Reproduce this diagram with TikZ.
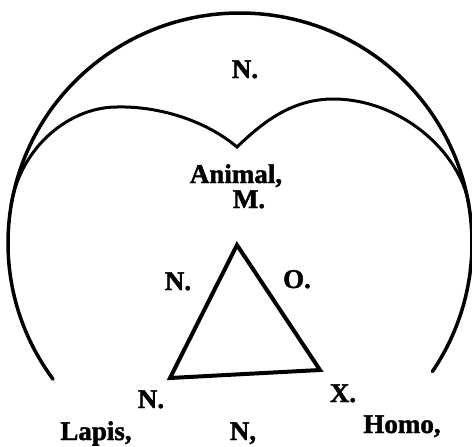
\documentclass[tikz,border=0pt]{standalone}
\usepackage{fontspec}
\setmainfont{Liberation Serif}[BoldFeatures={FakeBold=1.6}]
\usetikzlibrary{positioning}

\begin{document}
\begin{tikzpicture}[
    x=1pt, y=-1pt,
    lbl/.style={anchor=base, inner sep=0pt, font=\fontsize{27}{30}\selectfont\bfseries},
    rim/.style={line width=3.5pt, line cap=round},
    lobe/.style={line width=3pt, line cap=round},
    tri/.style={line width=4pt, line join=miter}
]
    \useasboundingbox (0,0) rectangle (472,447);
    % outer arc and the two inner lobes
    \coordinate (ctr) at (240,243);
    \draw[rim] ([shift={(143.7:232 and 230)}]ctr)
        arc[start angle=143.7, end angle=394, x radius=232, y radius=230];
    \coordinate (joinL) at (11,205);
    \coordinate (topL) at (117,107);
    \coordinate (cusp) at (237,147);
    \coordinate (topR) at (333,99);
    \coordinate (joinR) at (469,205);
    \draw[lobe] (joinL) .. controls (21,146) and (70,107) .. (topL)
        .. controls (158,106) and (205,120) .. (cusp)
        .. controls (260,125) and (290,99) .. (topR)
        .. controls (400,99) and (460,151) .. (joinR);
    % triangle
    \coordinate (apex) at (237,245);
    \coordinate (cornL) at (170,378);
    \coordinate (cornR) at (320,370);
    \draw[tri] (apex) -- (cornL) -- (cornR) -- cycle;
    % labels
    \node[lbl] (nTop)   at (245,78)  {N.};
    \node[lbl] (animal) at (236,183) {Animal,};
    \node[lbl] (m)      at (249,208) {M.};
    \node[lbl] (nLeft)  at (178,290) {N.};
    \node[lbl] (o)      at (297,288) {O.};
    \node[lbl] (nCorn)  at (151,408) {N.};
    \node[lbl] (x)      at (343,402) {X.};
    \node[lbl] (lapis)  at (96,440)  {Lapis,};
    \node[lbl] (nBot)   at (243,440) {N,};
    \node[lbl] (homo)   at (402,433) {Homo,};
\end{tikzpicture}
\end{document}
